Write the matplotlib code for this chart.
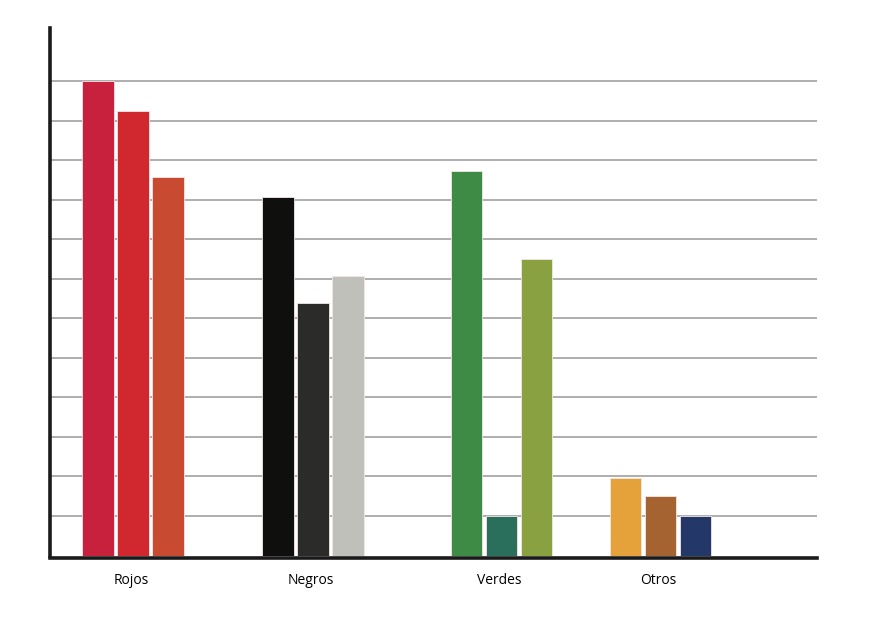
import numpy as np
import matplotlib.pyplot as plt

plt.rcParams['font.family'] = ['Open Sans', 'DejaVu Sans']

grupos = ['Rojos', 'Negros', 'Verdes', 'Otros']

# valores (tres barras por grupo)
rojos = [12.0, 11.25, 9.58]
negros = [9.06, 6.39, 7.07]
verdes = [9.73, 1.0, 7.5]
otros = [1.95, 1.5, 1.0]

colores = [
    ['#C8213E', '#D0282E', '#C84A30'],
    ['#0F0F0D', '#2B2B29', '#BFC0BA'],
    ['#3E8B45', '#2A6E5C', '#89A140'],
    ['#E5A23A', '#A56331', '#243769'],
]

# posiciones de los grupos (en píxeles desde el eje)
centros = [83.5, 263.5, 452, 611]
paso = 35
ancho = 31.5

W, H = 871, 619
fig = plt.figure(figsize=(W / 100, H / 100), dpi=100)
ax = fig.add_axes([49.5 / W, (H - 555.5) / H, (817 - 49.5) / W, (555.5 - 28) / H])

for c, vals, cols in zip(centros, [rojos, negros, verdes, otros], colores):
    xs = c + (np.arange(3) - 1) * paso
    ax.bar(xs, vals, width=ancho, color=cols, edgecolor='#f4e6e6',
           linewidth=0.6, zorder=3)

ax.set_xlim(0, 767.5)
ax.set_ylim(0, 13.34)
ax.set_yticks(np.arange(1, 13))
ax.yaxis.grid(True, color='#999999', linewidth=1.1, zorder=0)
ax.tick_params(axis='y', length=0, labelleft=False)

ax.set_xticks([c - 2 for c in centros])
ax.set_xticklabels(grupos, fontsize=10.5, color='#222222')
ax.tick_params(axis='x', length=0, pad=11)

for s in ['top', 'right']:
    ax.spines[s].set_visible(False)
for s in ['left', 'bottom']:
    ax.spines[s].set_linewidth(2.6)
    ax.spines[s].set_color('#1a1a1a')
    ax.spines[s].set_zorder(4)
ax.spines['bottom'].set_position(('outward', 1.8))

fig.savefig('out.png', dpi=100)
